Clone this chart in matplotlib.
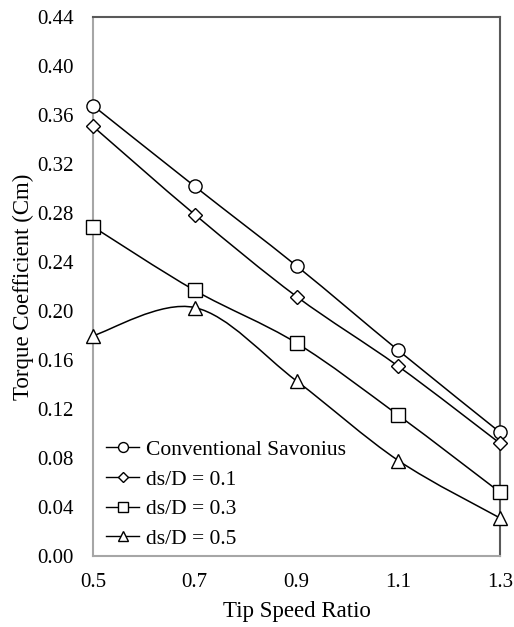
import matplotlib
matplotlib.use("Agg")
import matplotlib.pyplot as plt
from matplotlib.path import Path
from matplotlib.patches import PathPatch
from matplotlib.lines import Line2D

# --- Datos ---
tsr = [0.5, 0.7, 0.9, 1.1, 1.3]
cm_conventional = [0.368, 0.302, 0.237, 0.168, 0.101]
cm_ds01 = [0.351, 0.279, 0.212, 0.155, 0.092]
cm_ds03 = [0.269, 0.217, 0.174, 0.115, 0.052]
cm_ds05 = [0.180, 0.203, 0.143, 0.078, 0.031]

labels = ["Conventional Savonius", "ds/D = 0.1", "ds/D = 0.3", "ds/D = 0.5"]
markers = ["o", "D", "s", "^"]
marker_sizes = [9.5, 7, 9.5, 9.5]
yticks = [0.00, 0.04, 0.08, 0.12, 0.16, 0.20, 0.24, 0.28, 0.32, 0.36, 0.40, 0.44]
xticks = [0.5, 0.7, 0.9, 1.1, 1.3]

plt.rcParams["font.family"] = ["Liberation Serif", "DejaVu Serif"]


def smooth_path(x, y):
    """Curva suavizada estilo Excel: Bezier cúbicas tipo Catmull-Rom."""
    pts = list(zip(x, y))
    verts = [pts[0]]
    codes = [Path.MOVETO]
    n = len(pts)
    for i in range(n - 1):
        p0 = pts[i - 1] if i > 0 else pts[i]
        p1 = pts[i]
        p2 = pts[i + 1]
        p3 = pts[i + 2] if i + 2 < n else pts[i + 1]
        c1 = (p1[0] + (p2[0] - p0[0]) / 6, p1[1] + (p2[1] - p0[1]) / 6)
        c2 = (p2[0] - (p3[0] - p1[0]) / 6, p2[1] - (p3[1] - p1[1]) / 6)
        verts += [c1, c2, p2]
        codes += [Path.CURVE4] * 3
    return Path(verts, codes)


fig = plt.figure(figsize=(5.14, 6.27), dpi=100)
ax = fig.add_axes([0.181, 0.1132, 0.792, 0.8589])

series = [cm_conventional, cm_ds01, cm_ds03, cm_ds05]
handles = []
for values, marker, ms, label in zip(series, markers, marker_sizes, labels):
    ax.add_patch(PathPatch(smooth_path(tsr, values), facecolor="none",
                           edgecolor="black", linewidth=1.1, zorder=2))
    ax.plot(tsr, values, linestyle="none", marker=marker, markersize=ms,
            markerfacecolor="white", markeredgecolor="black",
            markeredgewidth=1.0, clip_on=False, zorder=3)
    handles.append(Line2D([], [], color="black", linewidth=1.0, marker=marker,
                          markersize=ms * 0.75, markerfacecolor="white",
                          markeredgecolor="black", label=label))

ax.set_xlim(0.5, 1.3)
ax.set_ylim(0, 0.44)
ax.set_xticks(xticks)
ax.set_xticklabels([f"{v:.1f}" for v in xticks])
ax.set_yticks(yticks)
ax.set_yticklabels([f"{v:.2f}" for v in yticks])
ax.tick_params(length=0, labelsize=15, pad=14)
ax.tick_params(axis="x", pad=12)

for side in ["left", "bottom"]:
    ax.spines[side].set_color("#a6a6a6")
    ax.spines[side].set_linewidth(1.5)
for side in ["top", "right"]:
    ax.spines[side].set_color("#595959")
    ax.spines[side].set_linewidth(1.5)

ax.set_xlabel("Tip Speed Ratio", fontsize=16.5, labelpad=7)
ax.set_ylabel("Torque Coefficient (Cm)", fontsize=16.5, labelpad=2)

ax.legend(handles=handles, loc="lower left", bbox_to_anchor=(0.0, -0.011),
          frameon=False, fontsize=15.5, handlelength=1.55, handletextpad=0.3,
          labelspacing=0.45, borderaxespad=0.2, borderpad=0.4)

fig.savefig("out.png", dpi=100)
